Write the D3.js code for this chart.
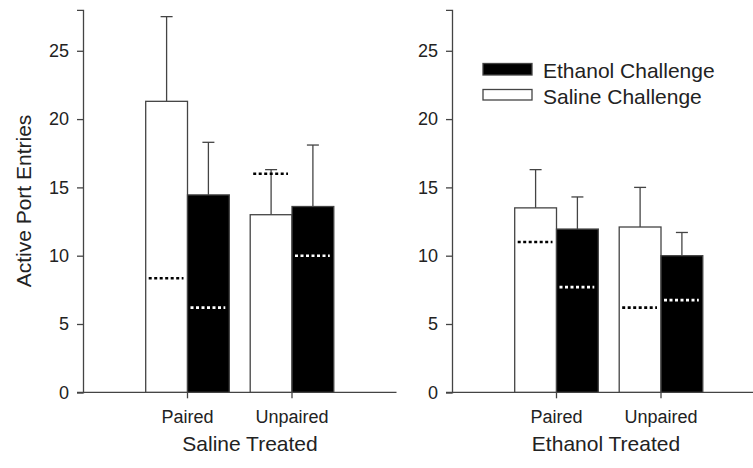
<!DOCTYPE html>
<html>
<head>
<meta charset="utf-8">
<script src="https://d3js.org/d3.v7.min.js"></script>
<style>
  body { margin: 0; background: #fff; }
  svg { font-family: "Liberation Sans", Arial, sans-serif; }
  .axis path, .axis line { stroke: #444; stroke-width: 1.3; }
  .axis text { fill: #222; font-size: 18px; }
</style>
</head>
<body>
<div id="chart"></div>
<script>
const groups = ["Paired", "Unpaired"];
const panelTitles = ["Saline Treated", "Ethanol Treated"];
const yTicks = [0, 5, 10, 15, 20, 25];

// [panel][group]
const salineMean = [[21.3, 13.0], [13.5, 12.1]];
const salineErr = [[6.2, 3.3], [2.8, 2.9]];
const salineDot = [[8.35, 16.0], [11.0, 6.2]];
const ethanolMean = [[14.45, 13.6], [11.95, 10.0]];
const ethanolErr = [[3.85, 4.5], [2.35, 1.7]];
const ethanolDot = [[6.2, 10.0], [7.7, 6.75]];

const legendLabels = ["Ethanol Challenge", "Saline Challenge"];

const W = 753, H = 468;
const lineColor = "#444";
const svg = d3.select("#chart").append("svg")
    .attr("width", W).attr("height", H);

const y = d3.scaleLinear().domain([0, 28]).range([392.3, 9.8]);
const panelX = [83, 452];
const barW = 0.4;

panelX.forEach(function(x0, p) {
    const x = d3.scaleLinear().domain([0, 3]).range([x0, x0 + 313.5]);
    const g = svg.append("g");

    // x axis line
    g.append("line")
        .attr("x1", x0 - 6).attr("x2", x(3))
        .attr("y1", y(0)).attr("y2", y(0))
        .attr("stroke", lineColor).attr("stroke-width", 1.3);

    const bars = [];
    groups.forEach(function(name, i) {
        const c = i + 1;
        bars.push({x0: c - barW, mean: salineMean[p][i], err: salineErr[p][i], dot: salineDot[p][i], fill: "#fff", dotColor: "#000"});
        bars.push({x0: c, mean: ethanolMean[p][i], err: ethanolErr[p][i], dot: ethanolDot[p][i], fill: "#000", dotColor: "#fff"});
    });

    // error bars (upper only)
    g.selectAll(".err").data(bars).enter().append("line")
        .attr("x1", d => x(d.x0 + barW / 2)).attr("x2", d => x(d.x0 + barW / 2))
        .attr("y1", d => y(d.mean)).attr("y2", d => y(d.mean + d.err))
        .attr("stroke", lineColor).attr("stroke-width", 1.3);
    g.selectAll(".cap").data(bars).enter().append("line")
        .attr("x1", d => x(d.x0 + barW / 2) - 6).attr("x2", d => x(d.x0 + barW / 2) + 6)
        .attr("y1", d => y(d.mean + d.err)).attr("y2", d => y(d.mean + d.err))
        .attr("stroke", lineColor).attr("stroke-width", 1.3);

    g.selectAll(".bar").data(bars).enter().append("rect")
        .attr("x", d => x(d.x0))
        .attr("width", d => x(d.x0 + barW) - x(d.x0))
        .attr("y", d => y(d.mean))
        .attr("height", d => y(0) - y(d.mean))
        .attr("fill", d => d.fill)
        .attr("stroke", lineColor).attr("stroke-width", 1.3);

    // dotted lines
    g.selectAll(".dot").data(bars).enter().append("line")
        .attr("x1", d => x(d.x0) + 3).attr("x2", d => x(d.x0 + barW) - 4)
        .attr("y1", d => y(d.dot)).attr("y2", d => y(d.dot))
        .attr("stroke", d => d.dotColor).attr("stroke-width", 2.6)
        .attr("stroke-dasharray", "3,2.5");

    // category ticks and labels
    groups.forEach(function(name, i) {
        g.append("line")
            .attr("x1", x(i + 1)).attr("x2", x(i + 1))
            .attr("y1", y(0)).attr("y2", y(0) + 6)
            .attr("stroke", lineColor).attr("stroke-width", 1.3);
        g.append("text")
            .attr("x", x(i + 1)).attr("y", y(0) + 31)
            .attr("text-anchor", "middle")
            .attr("font-size", 18).attr("fill", "#222")
            .text(name);
    });

    // y axis
    g.append("g").attr("class", "axis")
        .attr("transform", "translate(" + x0 + ",0)")
        .call(d3.axisLeft(y).tickValues(yTicks).tickSizeOuter(0).tickSize(6).tickPadding(8));

    g.append("text")
        .attr("x", p === 0 ? 250 : 606).attr("y", 451)
        .attr("text-anchor", "middle")
        .attr("font-size", 21).attr("fill", "#222")
        .text(panelTitles[p]);
});

// y title
svg.append("text")
    .attr("transform", "translate(31,201) rotate(-90)")
    .attr("text-anchor", "middle")
    .attr("font-size", 21).attr("fill", "#222")
    .text("Active Port Entries");

// legend
const legend = svg.append("g");
legendLabels.forEach(function(label, i) {
    legend.append("rect")
        .attr("x", 483).attr("y", i === 0 ? 63.5 : 89.5)
        .attr("width", 49).attr("height", i === 0 ? 11.5 : 10.5)
        .attr("fill", i === 0 ? "#000" : "#fff")
        .attr("stroke", lineColor).attr("stroke-width", 1.3);
    legend.append("text")
        .attr("x", 543).attr("y", i === 0 ? 77.5 : 104)
        .attr("font-size", 21).attr("fill", "#222")
        .text(label);
});
</script>
</body>
</html>
